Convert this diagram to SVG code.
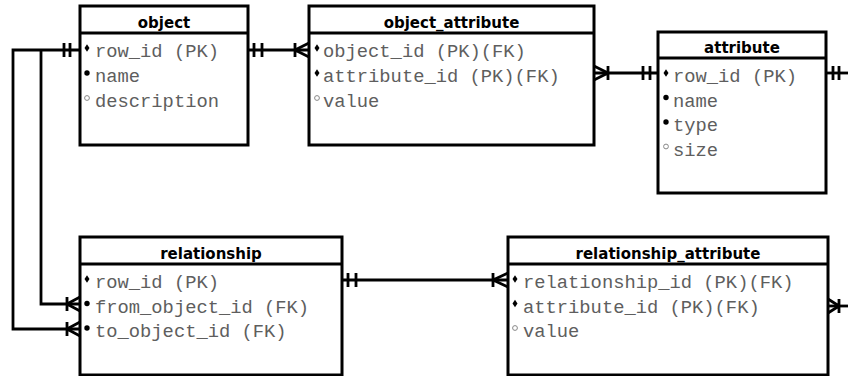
<svg xmlns="http://www.w3.org/2000/svg" width="848" height="376" viewBox="0 0 848 376">
  <style>
    .box { fill: #ffffff; stroke: #000000; stroke-width: 3; }
    .sep { stroke: #000000; stroke-width: 3; }
    .title { font-family: "DejaVu Sans", Verdana, sans-serif; font-weight: bold; font-size: 15px; fill: #000000; text-anchor: middle; }
    .field { font-family: "Liberation Mono", "Courier New", monospace; font-size: 18.8px; fill: #5e5e5e; }
    .pk { fill: #000000; }
    .req { fill: #000000; }
    .opt { fill: none; stroke: #888888; stroke-width: 1; }
    .conn { fill: none; stroke: #000000; stroke-width: 2.8; stroke-linejoin: miter; }
  </style>
  <defs>
    <!-- key marker: small diamond -->
    <path id="pkMark" d="M0,-3.8 L2.5,0 L0,3.8 L-2.5,0 Z"/>
  </defs>

  <rect width="848" height="376" fill="#ffffff"/>

  <!-- relationship lines -->
  <g id="connectors">
    <!-- object -> relationship (from / to) -->
    <path class="conn" d="M80,50 H13 V329 H80"/>
    <path class="conn" d="M41,50 V304 H80"/>
    <path class="conn" d="M64,43 V57 M70,43 V57"/>
    <path class="conn" d="M67,297 V311 M67,304 L80,297 M67,304 L80,311"/>
    <path class="conn" d="M67,322 V336 M67,329 L80,322 M67,329 L80,336"/>

    <!-- object -> object_attribute -->
    <path class="conn" d="M248,50 H309"/>
    <path class="conn" d="M254,43 V57 M262,43 V57"/>
    <path class="conn" d="M295,43 V57 M295,50 L309,43 M295,50 L309,57"/>

    <!-- attribute -> object_attribute -->
    <path class="conn" d="M594,73 H658"/>
    <path class="conn" d="M608,66 V80 M608,73 L594,66 M608,73 L594,80"/>
    <path class="conn" d="M643,66 V80 M650,66 V80"/>

    <!-- attribute -> relationship_attribute (continues past the right edge) -->
    <path class="conn" d="M826,73 H848"/>
    <path class="conn" d="M833,66 V80 M839,66 V80"/>
    <path class="conn" d="M828,306 H848"/>
    <path class="conn" d="M839,299 V313 M839,306 L828,299 M839,306 L828,313"/>

    <!-- relationship -> relationship_attribute -->
    <path class="conn" d="M342,280 H508"/>
    <path class="conn" d="M348,273 V287 M356,273 V287"/>
    <path class="conn" d="M493,273 V287 M493,280 L508,273 M493,280 L508,287"/>
  </g>

  <!-- object -->
  <g id="object">
    <rect class="box" x="80" y="6" width="168" height="139"/>
    <line class="sep" x1="80" y1="33" x2="248" y2="33"/>
    <text class="title" x="164" y="27.5">object</text>
    <use href="#pkMark" class="pk" x="87" y="48"/>
    <text class="field" x="95" y="57">row_id (PK)</text>
    <circle class="req" cx="87" cy="73" r="2.7"/>
    <text class="field" x="95" y="82">name</text>
    <circle class="opt" cx="87" cy="98" r="2.4"/>
    <text class="field" x="95" y="107">description</text>
  </g>

  <!-- object_attribute -->
  <g id="object_attribute">
    <rect class="box" x="309" y="6" width="285" height="139"/>
    <line class="sep" x1="309" y1="33" x2="594" y2="33"/>
    <text class="title" x="451.5" y="27.5">object_attribute</text>
    <use href="#pkMark" class="pk" x="317" y="48"/>
    <text class="field" x="323" y="57">object_id (PK)(FK)</text>
    <use href="#pkMark" class="pk" x="317" y="73"/>
    <text class="field" x="323" y="82">attribute_id (PK)(FK)</text>
    <circle class="opt" cx="317" cy="98" r="2.4"/>
    <text class="field" x="323" y="107">value</text>
  </g>

  <!-- attribute -->
  <g id="attribute">
    <rect class="box" x="658" y="32" width="168" height="161"/>
    <line class="sep" x1="658" y1="58" x2="826" y2="58"/>
    <text class="title" x="742" y="52.5">attribute</text>
    <use href="#pkMark" class="pk" x="666" y="73"/>
    <text class="field" x="673" y="82">row_id (PK)</text>
    <circle class="req" cx="666" cy="97.5" r="2.7"/>
    <text class="field" x="673" y="106.5">name</text>
    <circle class="req" cx="666" cy="122" r="2.7"/>
    <text class="field" x="673" y="131">type</text>
    <circle class="opt" cx="666" cy="146.5" r="2.4"/>
    <text class="field" x="673" y="155.5">size</text>
  </g>

  <!-- relationship -->
  <g id="relationship">
    <rect class="box" x="80" y="237" width="262" height="138"/>
    <line class="sep" x1="80" y1="264" x2="342" y2="264"/>
    <text class="title" x="211" y="258.5">relationship</text>
    <use href="#pkMark" class="pk" x="87" y="279"/>
    <text class="field" x="95" y="288">row_id (PK)</text>
    <circle class="req" cx="87" cy="303.5" r="2.7"/>
    <text class="field" x="95" y="312.5">from_object_id (FK)</text>
    <circle class="req" cx="87" cy="328" r="2.7"/>
    <text class="field" x="95" y="337">to_object_id (FK)</text>
  </g>

  <!-- relationship_attribute -->
  <g id="relationship_attribute">
    <rect class="box" x="508" y="237" width="320" height="138"/>
    <line class="sep" x1="508" y1="264" x2="828" y2="264"/>
    <text class="title" x="668" y="258.5">relationship_attribute</text>
    <use href="#pkMark" class="pk" x="515" y="279"/>
    <text class="field" x="523" y="288">relationship_id (PK)(FK)</text>
    <use href="#pkMark" class="pk" x="515" y="303.5"/>
    <text class="field" x="523" y="312.5">attribute_id (PK)(FK)</text>
    <circle class="opt" cx="515" cy="328" r="2.4"/>
    <text class="field" x="523" y="337">value</text>
  </g>
</svg>
